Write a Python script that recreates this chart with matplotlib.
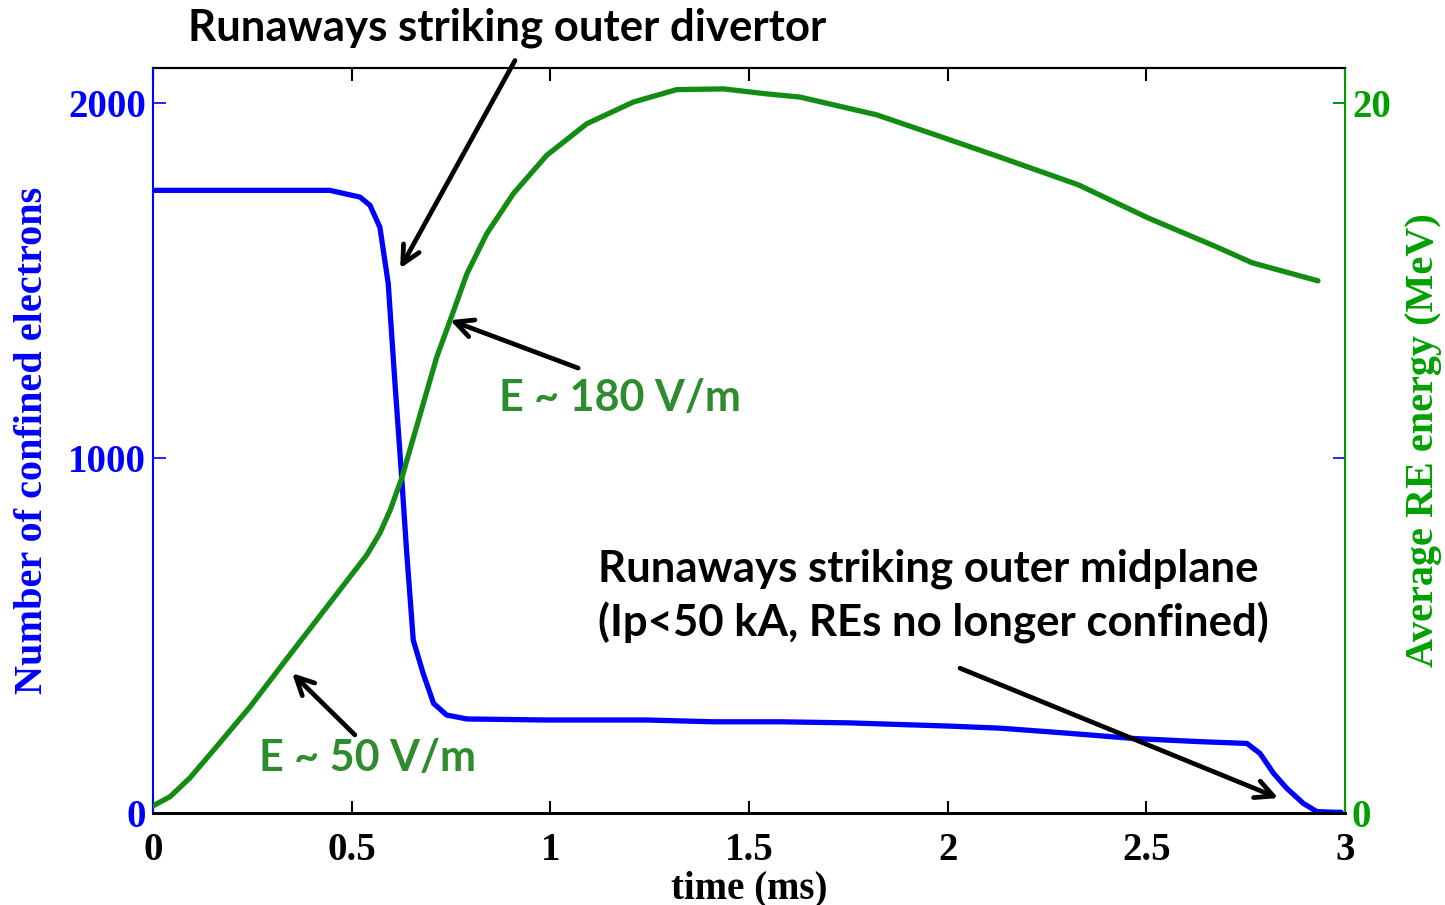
import numpy as np
import matplotlib.pyplot as plt

# confined electron count
t_n = [0.0, 0.445, 0.521, 0.546, 0.571, 0.592, 0.609, 0.626, 0.638, 0.655, 0.68, 0.706,
       0.739, 0.79, 0.991, 1.243, 1.41, 1.578, 1.75, 2.0, 2.132, 2.30, 2.467, 2.635,
       2.753, 2.786, 2.82, 2.853, 2.895, 2.929, 2.97, 2.99]
n_conf = [1755, 1755, 1736, 1713, 1651, 1492, 1210, 943, 741, 487, 393, 309,
          276, 265, 262, 262, 257, 257, 254, 245, 239, 225, 210, 201,
          196, 168, 112, 70, 27, 4, 2, 2]

# average runaway energy (MeV)
t_e = [0.0, 0.043, 0.093, 0.16, 0.244, 0.328, 0.412, 0.496, 0.538, 0.571, 0.597, 0.626,
       0.714, 0.748, 0.79, 0.84, 0.907, 0.991, 1.092, 1.209, 1.318, 1.436, 1.544, 1.628,
       1.821, 1.978, 2.118, 2.328, 2.503, 2.678, 2.766, 2.932]
e_avg = [0.2, 0.46, 0.99, 1.87, 2.99, 4.22, 5.44, 6.66, 7.27, 7.89, 8.54, 9.44,
         12.85, 13.89, 15.2, 16.33, 17.46, 18.54, 19.43, 20.04, 20.39, 20.41, 20.27, 20.18,
         19.68, 19.08, 18.54, 17.71, 16.78, 15.95, 15.51, 15.0]

blue = '#0000ff'
green_line = '#138c13'
green_axis = '#00a000'
green_text = '#2e8b2e'

fig = plt.figure(figsize=(14.45, 9.05), dpi=100)
ax = fig.add_axes([0.1059, 0.1017, 0.8249, 0.8232])
ax2 = ax.twinx()

ax.plot(t_n, n_conf, color=blue, lw=3.8, solid_joinstyle='round', solid_capstyle='round', zorder=3)
ax2.plot(t_e, e_avg, color=green_line, lw=3.8, solid_joinstyle='round', solid_capstyle='round', zorder=3)

ax.set_xlim(0, 3)
ax.set_ylim(0, 2100)
ax2.set_ylim(0, 21)

tick_font = dict(family='Liberation Serif', weight='bold', size=28)
ax.set_xticks([0, 0.5, 1, 1.5, 2, 2.5, 3])
ax.set_xticklabels(['0', '0.5', '1', '1.5', '2', '2.5', '3'], **tick_font)
ax.set_yticks([0, 1000, 2000])
ax.set_yticklabels(['0', '1000', '2000'], color=blue, **tick_font)
ax2.set_yticks([0, 20])
ax2.set_yticklabels(['0', '20'], color=green_axis, **tick_font)

ax.tick_params(axis='x', direction='in', length=9, width=1.5, pad=14, top=True)
ax.tick_params(axis='y', direction='in', length=9, width=1.2, colors=blue, right=True, pad=5)
ax2.tick_params(axis='y', direction='in', length=9, width=1.2, colors=green_axis, pad=5)

for a in (ax, ax2):
    a.spines['top'].set_color('black')
    a.spines['top'].set_linewidth(1.5)
    a.spines['bottom'].set_color('black')
    a.spines['bottom'].set_linewidth(2)
ax.spines['left'].set_color(blue)
ax.spines['left'].set_linewidth(1.5)
ax2.spines['left'].set_visible(False)
ax2.spines['right'].set_color(green_axis)
ax2.spines['right'].set_linewidth(1.5)
ax.spines['right'].set_visible(False)

label_font = dict(family='Liberation Serif', weight='bold', size=28)
ax.set_xlabel('time (ms)', labelpad=1, **label_font)
ax.set_ylabel('Number of confined electrons', color=blue, labelpad=12, size=29,
              family='Liberation Serif', weight='bold')
ax2.set_ylabel('Average RE energy (MeV)', color=green_axis, labelpad=10, size=29,
               family='Liberation Serif', weight='bold')

note_font = dict(family='Lato', weight='bold', size=31.5)
e_font = dict(family='Lato', weight='bold', size=31)
arrow = dict(arrowstyle='->', color='black', lw=3.4, mutation_scale=32, shrinkA=0, shrinkB=0)

ax.text(0.89, 2214, 'Runaways striking outer divertor', ha='center', va='center',
        clip_on=False, **note_font)
ax.annotate('', xy=(0.622, 1535), xytext=(0.911, 2121), annotation_clip=False,
            arrowprops=arrow)

ax2.text(1.175, 11.69, 'E ~ 180 V/m', ha='center', va='center', color=green_text, **e_font)
ax2.annotate('', xy=(0.748, 13.89), xytext=(1.07, 12.54), arrowprops=arrow)

ax2.text(0.541, 1.55, 'E ~ 50 V/m', ha='center', va='center', color=green_text, **e_font)
ax2.annotate('', xy=(0.35, 3.94), xytext=(0.508, 2.2), arrowprops=arrow)

ax.text(1.12, 611, 'Runaways striking outer midplane\n(Ip<50 kA, REs no longer confined)',
        ha='left', va='center', linespacing=1.35, **note_font)
ax.annotate('', xy=(2.832, 42), xytext=(2.031, 408), arrowprops=arrow)

fig.savefig('out.png', dpi=100)
